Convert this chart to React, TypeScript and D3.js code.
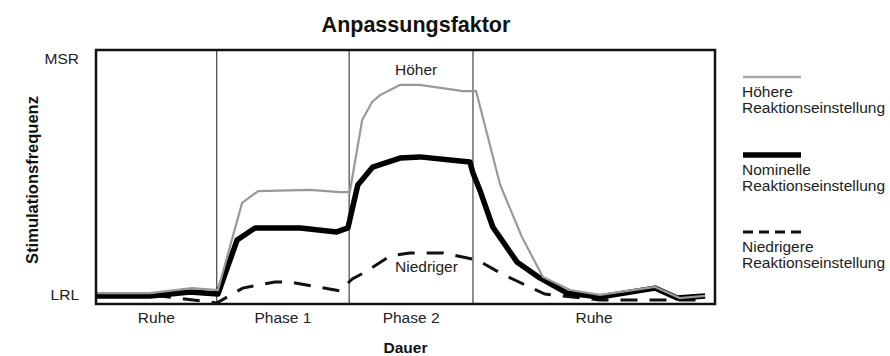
import React, { useRef, useEffect } from 'react';
import { select, line, scaleLinear } from 'd3';

// time axis (Dauer), arbitrary units 0..100
const phaseBounds = [19.5, 40.9, 60.9];
const phaseLabels = ['Ruhe', 'Phase 1', 'Phase 2', 'Ruhe'];

// Höhere Reaktionseinstellung
const hoeherT = [0, 8.7, 15.5, 19.7, 23.6, 26.2, 34.6, 39.4, 41.0, 43.0, 44.6, 45.9, 49.1, 52.3, 59.3, 61.4, 65.3, 68.8, 72.2, 76.6, 81.4, 90.3, 94.3, 98.4];
const hoeherV = [0.4, 0.4, 2.5, 1.7, 38.6, 43.6, 44.1, 43.2, 43.2, 73.7, 81.4, 84.3, 88.6, 88.6, 86.0, 86.0, 46.2, 24.2, 7.2, 1.7, -0.4, 3.0, -1.7, -0.8];

// Nominelle Reaktionseinstellung
const nominellT = [0, 8.7, 15.2, 19.7, 22.8, 25.7, 33.0, 38.9, 40.7, 42.3, 44.7, 49.1, 52.3, 60.4, 60.9, 62.0, 64.1, 68.0, 71.7, 76.1, 81.4, 90.3, 93.9, 98.4];
const nominellV = [-0.8, -0.8, 0.8, 0, 22.9, 28.0, 28.0, 26.3, 28.0, 46.2, 53.8, 57.6, 58.1, 55.9, 51.3, 44.1, 28.4, 13.6, 6.8, 0.4, -1.3, 2.5, -1.7, -0.8];

// Niedrigere Reaktionseinstellung
const niedrigT = [0, 10.3, 19.5, 23.7, 28.9, 31.3, 39.4, 41.4, 43.5, 47.5, 50.7, 56.1, 61.6, 65.3, 68.0, 72.5, 81.4, 98.4];
const niedrigV = [-0.8, -0.8, -3.8, 2.5, 5.1, 5.1, 1.3, 6.4, 9.3, 16.1, 17.4, 17.4, 14.4, 8.9, 5.5, 0, -2.5, -2.5];

const legendLabels = [
  ['Höhere', 'Reaktionseinstellung'],
  ['Nominelle', 'Reaktionseinstellung'],
  ['Niedrigere', 'Reaktionseinstellung'],
];

const FONT = 'Liberation Sans, Arial, sans-serif';

const Chart = () => {
  const svgRef = useRef(null);

  useEffect(() => {
    const svg = select(svgRef.current);
    svg.selectAll('*').remove();

    const left = 96, right = 715, top = 50, bottom = 304;

    // scales
    const xScale = scaleLinear().domain([0, 100]).range([left, right]);
    const yScale = scaleLinear().domain([0, 100]).range([294, 58]); // LRL .. MSR

    // title
    svg.append('text')
      .attr('x', 416).attr('y', 32)
      .attr('text-anchor', 'middle')
      .attr('font-family', FONT).attr('font-weight', 'bold').attr('font-size', 21.5)
      .attr('fill', '#111')
      .text('Anpassungsfaktor');

    // phase dividers
    svg.selectAll('.divider')
      .data(phaseBounds)
      .join('line')
      .attr('class', 'divider')
      .attr('x1', (d) => xScale(d)).attr('x2', (d) => xScale(d))
      .attr('y1', top).attr('y2', bottom)
      .attr('stroke', '#444').attr('stroke-width', 1.2);

    const mk = (ts, vs) => ts.map((t, i) => ({ t, v: vs[i] }));
    const myLine = line()
      .x((d) => xScale(d.t))
      .y((d) => yScale(d.v));

    svg.append('path')
      .attr('d', myLine(mk(niedrigT, niedrigV)))
      .attr('fill', 'none').attr('stroke', '#111').attr('stroke-width', 3)
      .attr('stroke-dasharray', '17,12');

    svg.append('path')
      .attr('d', myLine(mk(nominellT, nominellV)))
      .attr('fill', 'none').attr('stroke', '#000').attr('stroke-width', 5.5)
      .attr('stroke-linejoin', 'round');

    svg.append('path')
      .attr('d', myLine(mk(hoeherT, hoeherV)))
      .attr('fill', 'none').attr('stroke', '#999').attr('stroke-width', 2.2);

    // frame
    svg.append('rect')
      .attr('x', left).attr('y', top)
      .attr('width', right - left).attr('height', bottom - top)
      .attr('fill', 'none').attr('stroke', '#111').attr('stroke-width', 2.5);

    // y tick labels
    svg.selectAll('.ytick')
      .data([{ v: 100, label: 'MSR' }, { v: 0, label: 'LRL' }])
      .join('text')
      .attr('class', 'ytick')
      .attr('x', 79).attr('y', (d) => yScale(d.v) + 5.5)
      .attr('text-anchor', 'end')
      .attr('font-family', FONT).attr('font-size', 15.5).attr('fill', '#222')
      .text((d) => d.label);

    // phase labels
    const edges = [0, ...phaseBounds, 100];
    svg.selectAll('.phase')
      .data(phaseLabels)
      .join('text')
      .attr('class', 'phase')
      .attr('x', (d, i) => (xScale(edges[i]) + xScale(edges[i + 1])) / 2)
      .attr('y', 323)
      .attr('text-anchor', 'middle')
      .attr('font-family', FONT).attr('font-size', 15.5).attr('fill', '#222')
      .text((d) => d);

    // annotations
    svg.append('text')
      .attr('x', 395).attr('y', 75)
      .attr('font-family', FONT).attr('font-size', 15.5).attr('fill', '#222')
      .text('Höher');
    svg.append('text')
      .attr('x', 395).attr('y', 272)
      .attr('font-family', FONT).attr('font-size', 15.5).attr('fill', '#222')
      .text('Niedriger');

    // axis titles
    svg.append('text')
      .attr('x', (left + right) / 2).attr('y', 353)
      .attr('text-anchor', 'middle')
      .attr('font-family', FONT).attr('font-weight', 'bold').attr('font-size', 15.5)
      .attr('fill', '#111')
      .text('Dauer');
    svg.append('text')
      .attr('transform', 'translate(38,180) rotate(-90)')
      .attr('text-anchor', 'middle')
      .attr('font-family', FONT).attr('font-weight', 'bold').attr('font-size', 16.5)
      .attr('fill', '#111')
      .text('Stimulationsfrequenz');

    // legend
    const legendY = [77, 155, 232];
    const legendStyles = [
      { stroke: '#aaa', width: 2.5, dash: null },
      { stroke: '#000', width: 5.5, dash: null },
      { stroke: '#111', width: 3, dash: '10,6' },
    ];
    legendLabels.forEach((lbl, i) => {
      const st = legendStyles[i];
      const ln = svg.append('line')
        .attr('x1', 743).attr('x2', 801)
        .attr('y1', legendY[i]).attr('y2', legendY[i])
        .attr('stroke', st.stroke).attr('stroke-width', st.width);
      if (st.dash) ln.attr('stroke-dasharray', st.dash);
      lbl.forEach((s, j) => {
        svg.append('text')
          .attr('x', 742).attr('y', legendY[i] + 20 + j * 16)
          .attr('font-family', FONT).attr('font-size', 15.5).attr('fill', '#222')
          .text(s);
      });
    });
  }, []);

  return (
    <svg
      ref={svgRef}
      width={890}
      height={356}
      style={{ position: 'absolute', left: 0, top: 0, background: '#fff' }}
    ></svg>
  );
};

export default function App() {
  return <Chart />;
}
